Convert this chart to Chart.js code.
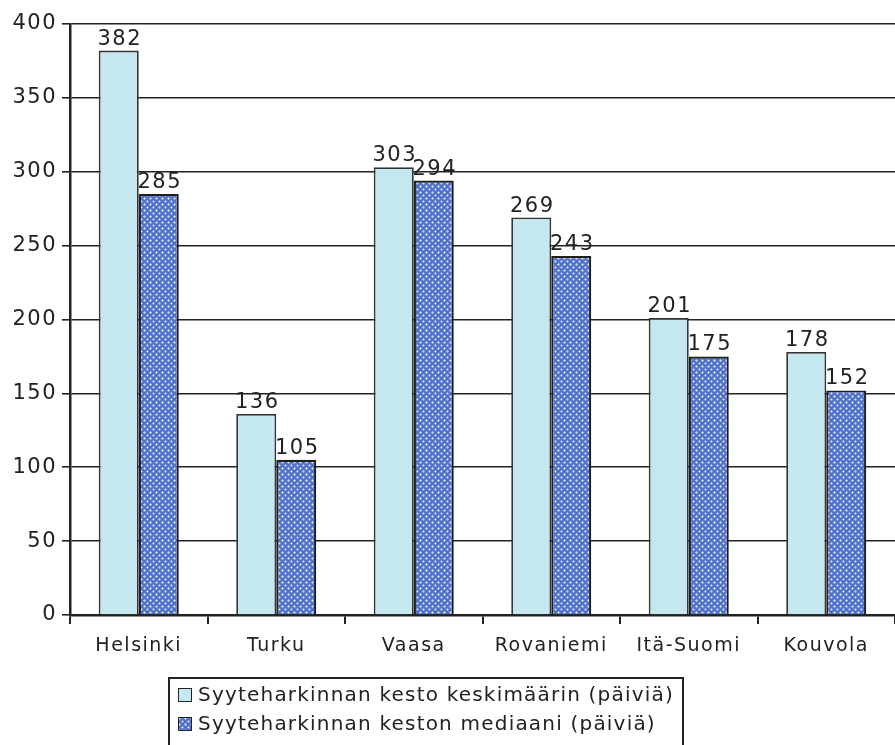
<!DOCTYPE html>
<html>
<head>
<meta charset="utf-8">
<script src="https://cdn.jsdelivr.net/npm/chart.js@4"></script>
<style>
  html, body { margin: 0; padding: 0; background: #fff; }
  #wrap { position: relative; width: 895px; height: 745px; overflow: hidden; }
  canvas#c { position: absolute; left: 0; top: 0; }
  #legend { position: absolute; left: 168px; top: 677px; width: 516px; height: 90px;
    border: 2px solid #222; box-sizing: border-box; font-family: "DejaVu Sans", sans-serif;
    font-size: 20px; color: #222; letter-spacing: 1.2px; }
  .li { position: absolute; left: 8px; height: 24px; line-height: 24px; white-space: nowrap; }
  .sw { display: inline-block; width: 12px; height: 12px; border: 1.5px solid #222;
    vertical-align: -1px; margin-right: 6px; }
</style>
</head>
<body>
<div id="wrap">
  <canvas id="c" width="895" height="745"></canvas>
  <div id="legend">
    <div class="li" style="top:3px"><span class="sw" style="background:#c5e7f0"></span><span id="l1"></span></div>
    <div class="li" style="top:32px"><canvas id="sw2" class="sw" width="12" height="12" style="padding:0"></canvas><span id="l2"></span></div>
  </div>
</div>
<script>
const categories = ["Helsinki", "Turku", "Vaasa", "Rovaniemi", "Itä-Suomi", "Kouvola"];
const seriesNames = ["Syyteharkinnan kesto keskimäärin (päiviä)", "Syyteharkinnan keston mediaani (päiviä)"];
const meanDays = [382, 136, 303, 269, 201, 178];
const medianDays = [285, 105, 294, 243, 175, 152];
const yTicks = [0, 50, 100, 150, 200, 250, 300, 350, 400];

document.getElementById('l1').textContent = seriesNames[0];
document.getElementById('l2').textContent = seriesNames[1];

function makePattern() {
  const t = document.createElement('canvas');
  t.width = 6; t.height = 6;
  const g = t.getContext('2d');
  g.fillStyle = '#5878cd';
  g.fillRect(0, 0, 6, 6);
  const px = (x, y, c) => { g.fillStyle = c; g.fillRect(x, y, 1, 1); };
  px(0, 0, '#dde5f8'); px(3, 3, '#dde5f8');
  px(1, 0, '#a6bae9'); px(5, 0, '#a6bae9'); px(0, 1, '#a6bae9'); px(0, 5, '#a6bae9');
  px(2, 3, '#98aee5'); px(4, 3, '#98aee5'); px(3, 2, '#98aee5'); px(3, 4, '#98aee5');
  px(3, 0, '#3e61bf'); px(0, 3, '#3e61bf'); px(3, 5, '#4567c3'); px(5, 3, '#4567c3');
  return t;
}
const tile = makePattern();
const ctx = document.getElementById('c').getContext('2d');
const pattern = ctx.createPattern(tile, 'repeat');
const sw = document.getElementById('sw2').getContext('2d');
sw.fillStyle = sw.createPattern(tile, 'repeat');
sw.fillRect(0, 0, 12, 12);

const FONT = "'DejaVu Sans', sans-serif";

const spacingPlugin = {
  id: 'spacing',
  beforeDraw(chart) { chart.ctx.letterSpacing = '1.5px'; }
};

const valueLabels = {
  id: 'valueLabels',
  afterDatasetsDraw(chart) {
    const c = chart.ctx;
    c.save();
    c.letterSpacing = '1.5px';
    c.font = "21px " + FONT;
    c.fillStyle = '#222';
    c.textAlign = 'center';
    c.textBaseline = 'bottom';
    chart.data.datasets.forEach((ds, di) => {
      chart.getDatasetMeta(di).data.forEach((bar, i) => {
        c.fillText(String(ds.data[i]), bar.x + 1, bar.y - 1);
      });
    });
    c.restore();
  }
};

new Chart(ctx, {
  type: 'bar',
  data: {
    labels: categories,
    datasets: [
      { label: seriesNames[0], data: meanDays, backgroundColor: '#c5e7f0', borderColor: '#333', borderWidth: 1.8,
        categoryPercentage: 0.582, barPercentage: 1 },
      { label: seriesNames[1], data: medianDays, backgroundColor: pattern, borderColor: '#1e1e1e', borderWidth: 2.2,
        categoryPercentage: 0.582, barPercentage: 1 }
    ]
  },
  options: {
    responsive: false,
    animation: false,
    layout: { padding: { top: 24, right: 0, left: 0, bottom: 0 } },
    plugins: { legend: { display: false }, tooltip: { enabled: false } },
    scales: {
      x: {
        offset: true,
        grid: { display: true, offset: true, drawOnChartArea: false, drawTicks: true, tickLength: 9, color: '#222', lineWidth: 2 },
        border: { display: true, color: '#222', width: 2.5 },
        ticks: { font: { family: FONT, size: 19 }, color: '#222', padding: 11 },
        afterFit(s) { s.height = 130; }
      },
      y: {
        min: 0, max: 400,
        afterBuildTicks(s) { s.ticks = yTicks.map(v => ({ value: v })); },
        grid: { color: '#222', lineWidth: 1.6, tickLength: 8, drawTicks: true },
        border: { display: true, color: '#222', width: 2.5 },
        ticks: { font: { family: FONT, size: 21 }, color: '#222', padding: 5 },
        afterFit(s) { s.width = 70; }
      }
    }
  },
  plugins: [spacingPlugin, valueLabels]
});
</script>
</body>
</html>
